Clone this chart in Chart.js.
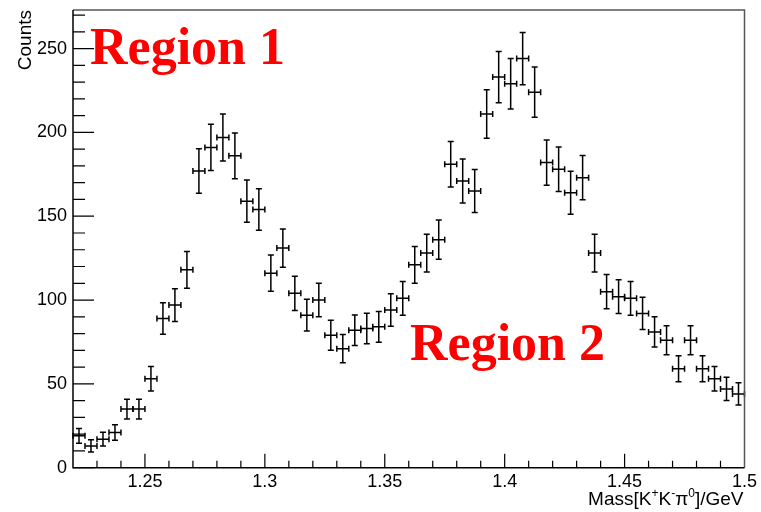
<!DOCTYPE html>
<html>
<head>
<meta charset="utf-8">
<script src="https://cdn.jsdelivr.net/npm/chart.js@4/dist/chart.umd.min.js"></script>
<style>
html,body{margin:0;padding:0;background:#fff;}
#wrap{position:relative;width:761px;height:512px;}
canvas{display:block;}
</style>
</head>
<body>
<div id="wrap"><canvas id="c" width="761" height="512"></canvas></div>
<script>
// ---- data ----
const binCenters = [1.2225,1.2275,1.2325,1.2375,1.2425,1.2475,1.2525,1.2575,1.2625,1.2675,
  1.2725,1.2775,1.2825,1.2875,1.2925,1.2975,1.3025,1.3075,1.3125,1.3175,
  1.3225,1.3275,1.3325,1.3375,1.3425,1.3475,1.3525,1.3575,1.3625,1.3675,
  1.3725,1.3775,1.3825,1.3875,1.3925,1.3975,1.4025,1.4075,1.4125,1.4175,
  1.4225,1.4275,1.4325,1.4375,1.4425,1.4475,1.4525,1.4575,1.4625,1.4675,
  1.4725,1.4775,1.4825,1.4875,1.4925,1.4975];
const counts = [19,13,17,21,35,35,53,89,97,118,
  177,191,197,186,159,154,116,131,104,91,
  100,79,71,82,83,84,94,101,121,128,
  136,181,171,165,211,233,229,244,224,182,
  178,164,173,128,105,102,101,92,81,76,
  59,76,59,53,47,44];
const countErrors = [4.4,3.6,4.1,4.6,5.9,5.9,7.3,9.4,9.8,10.9,
  13.3,13.8,14.0,13.6,12.6,12.4,10.8,11.4,10.2,9.5,
  10.0,8.9,8.4,9.1,9.1,9.2,9.7,10.0,11.0,11.3,
  11.7,13.5,13.1,12.8,14.5,15.3,15.1,15.6,15.0,13.5,
  13.3,12.8,13.2,11.3,10.2,10.1,10.0,9.6,9.0,8.7,
  7.7,8.7,7.7,7.3,6.9,6.6];
const binHalfWidth = 0.0025;
const xTickValues = [1.25,1.3,1.35,1.4,1.45,1.5];
const xTickLabels = ['1.25','1.3','1.35','1.4','1.45','1.5'];
const yTickValues = [0,50,100,150,200,250];
const yTickLabels = ['0','50','100','150','200','250'];
const regionLabels = ['Region 1','Region 2'];
const yAxisTitle = 'Counts';

const FONT = '"Liberation Sans", Arial, Helvetica, sans-serif';

const errorBarPlugin = {
  id: 'errorBars',
  afterDatasetsDraw(chart) {
    const ctx = chart.ctx, xs = chart.scales.x, ys = chart.scales.y;
    ctx.save();
    ctx.strokeStyle = '#000';
    ctx.lineWidth = 1.5;
    const cap = 3;
    for (let i = 0; i < counts.length; i++) {
      const xc = xs.getPixelForValue(binCenters[i]);
      const xl = xs.getPixelForValue(binCenters[i] - binHalfWidth);
      const xr = xs.getPixelForValue(binCenters[i] + binHalfWidth);
      const yc = ys.getPixelForValue(counts[i]);
      const yt = ys.getPixelForValue(counts[i] + countErrors[i]);
      const yb = ys.getPixelForValue(Math.max(0, counts[i] - countErrors[i]));
      ctx.beginPath();
      ctx.moveTo(xl, yc); ctx.lineTo(xr, yc);
      ctx.moveTo(xc, yt); ctx.lineTo(xc, yb);
      ctx.moveTo(xc - cap, yt); ctx.lineTo(xc + cap, yt);
      ctx.moveTo(xc - cap, yb); ctx.lineTo(xc + cap, yb);
      ctx.moveTo(xl, yc - cap); ctx.lineTo(xl, yc + cap);
      ctx.moveTo(xr, yc - cap); ctx.lineTo(xr, yc + cap);
      ctx.stroke();
    }
    ctx.restore();
  }
};

const framePlugin = {
  id: 'frame',
  afterDraw(chart) {
    const ctx = chart.ctx, xs = chart.scales.x, ys = chart.scales.y;
    const a = chart.chartArea;
    ctx.save();
    ctx.strokeStyle = '#555';
    ctx.lineWidth = 1.5;
    ctx.beginPath();
    ctx.moveTo(a.left, a.top); ctx.lineTo(a.right, a.top); ctx.lineTo(a.right, a.bottom);
    ctx.stroke();
    ctx.strokeStyle = '#000';
    ctx.lineWidth = 1.5;
    ctx.beginPath();
    ctx.moveTo(a.left, a.top); ctx.lineTo(a.left, a.bottom); ctx.lineTo(a.right, a.bottom);
    ctx.stroke();
    ctx.lineWidth = 1.2;
    ctx.beginPath();
    for (let k = 123; k <= 149; k++) {
      const px = xs.getPixelForValue(k / 100);
      const len = (k % 5 === 0) ? 14 : 7;
      ctx.moveTo(px, a.bottom); ctx.lineTo(px, a.bottom - len);
    }
    for (let k = 0; k <= 270; k += 10) {
      const py = ys.getPixelForValue(k);
      const len = (k % 50 === 0) ? 21 : 12;
      ctx.moveTo(a.left, py); ctx.lineTo(a.left + len, py);
    }
    ctx.stroke();

    ctx.fillStyle = '#000';
    ctx.font = '19px ' + FONT;
    ctx.save();
    ctx.translate(31, a.top);
    ctx.rotate(-Math.PI / 2);
    ctx.textAlign = 'right';
    ctx.textBaseline = 'alphabetic';
    ctx.fillText(yAxisTitle, 0, 0);
    ctx.restore();

    const parts = [['Mass[K', 0], ['+', 1], ['K', 0], ['-', 1], ['\u03C0', 0], ['0', 1], [']/GeV', 0]];
    const baseFont = '19px ' + FONT, supFont = '12px ' + FONT;
    let total = 0;
    for (const [t, s] of parts) { ctx.font = s ? supFont : baseFont; total += ctx.measureText(t).width; }
    let x = a.right - 1 - total, yb = 505;
    ctx.textAlign = 'left';
    for (const [t, s] of parts) {
      ctx.font = s ? supFont : baseFont;
      ctx.fillText(t, x, s ? yb - 8 : yb);
      x += ctx.measureText(t).width;
    }

    ctx.fillStyle = '#ff0000';
    ctx.font = 'bold 52px "Liberation Serif", "Times New Roman", serif';
    ctx.textAlign = 'left';
    ctx.fillText(regionLabels[0], 90, 64);
    ctx.fillText(regionLabels[1], 410, 360);
    ctx.restore();
  }
};

new Chart(document.getElementById('c'), {
  type: 'scatter',
  data: {
    datasets: [{
      data: binCenters.map((x, i) => ({ x: x, y: counts[i] })),
      pointRadius: 0,
      showLine: false
    }]
  },
  options: {
    responsive: false,
    animation: false,
    devicePixelRatio: 1,
    layout: { padding: { top: 10, right: 16.5, left: 0, bottom: 0 } },
    plugins: { legend: { display: false }, tooltip: { enabled: false } },
    scales: {
      x: {
        type: 'linear', min: 1.22, max: 1.5,
        grid: { display: false, drawTicks: false },
        border: { display: false },
        afterBuildTicks: s => { s.ticks = xTickValues.map(v => ({ value: v })); },
        ticks: {
          padding: 4, color: '#000', maxRotation: 0, autoSkip: false,
          font: { family: FONT, size: 18 },
          callback: (v) => xTickLabels[xTickValues.indexOf(v)]
        },
        afterFit: s => { s.height = 44.3; s.paddingLeft = 0; s.paddingRight = 0; }
      },
      y: {
        type: 'linear', min: 0, max: 273,
        grid: { display: false, drawTicks: false },
        border: { display: false },
        afterBuildTicks: s => { s.ticks = yTickValues.map(v => ({ value: v })); },
        ticks: {
          padding: 6, color: '#000', autoSkip: false,
          font: { family: FONT, size: 18 },
          callback: (v) => yTickLabels[yTickValues.indexOf(v)]
        },
        afterFit: s => { s.width = 73; s.paddingTop = 0; s.paddingBottom = 0; }
      }
    }
  },
  plugins: [errorBarPlugin, framePlugin]
});
</script>
</body>
</html>
